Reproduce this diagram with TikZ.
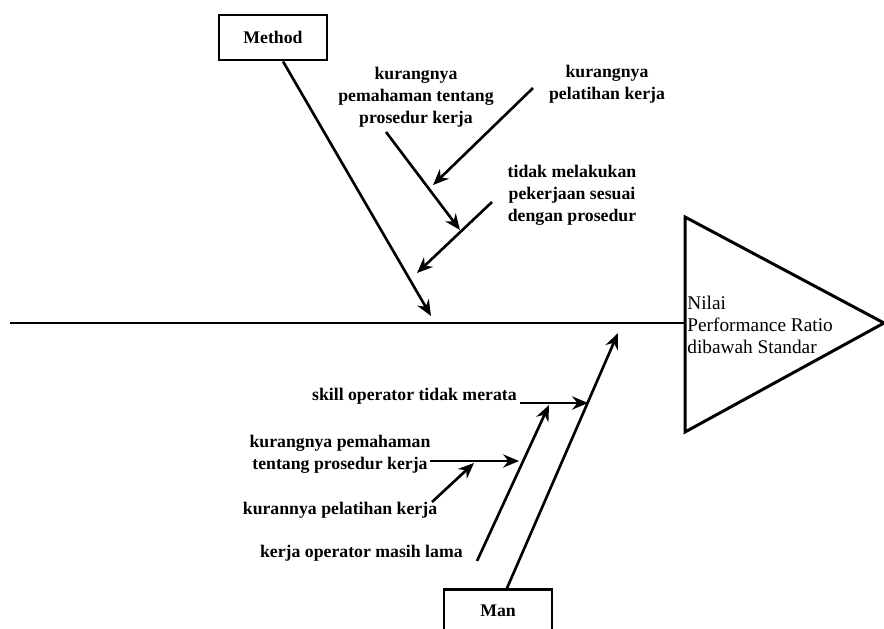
\documentclass[tikz,border=0pt]{standalone}
\usepackage{fontspec}
\usepackage{tikz}
\usetikzlibrary{positioning,arrows.meta,calc}
\newcommand\fishfont{\fontspec{Liberation Serif}}
\tikzset{
  catbox/.style={draw,line width=1.6pt,minimum width=2.16cm,minimum height=0.9cm,
            align=center,font=\fishfont\bfseries\fontsize{10.1}{12.5}\selectfont,fill=white},
  cause/.style={inner sep=0pt,align=center,font=\fishfont\bfseries\fontsize{10.1}{12.5}\selectfont},
  effecttext/.style={inner sep=0pt,align=left,font=\fishfont\fontsize{11}{12.5}\selectfont},
  bone/.style={-{Stealth[length=9pt,width=7.5pt]},line width=1.5pt},
  spine/.style={line width=1.7pt},
}

\begin{document}
\begin{tikzpicture}[x=0.02cm,y=-0.02cm]
  \useasboundingbox (0,0) rectangle (884,628);
  \clip (0,0) rectangle (884,628);
  % head of the fish
  \coordinate (htop) at (685,217);
  \coordinate (hbot) at (685,432);
  \coordinate (htip) at (884,323);
  \draw[spine,line join=miter] (htop) -- (htip) -- (hbot) -- cycle;
  \node[effecttext,anchor=west] (effect) at (687,325) {Nilai\\Performance Ratio\\dibawah Standar};
  \coordinate (tail) at (10,323);
  \coordinate (head) at (685,323);
  \draw[spine] (tail) -- (head);

  % Method
  \node[catbox] (method) at (273,37.5) {Method};
  \coordinate (mroot) at ($(method.south)+(10,0)$);
  \coordinate (mend) at (431,316);
  \draw[bone] (mroot) -- (mend);
  \node[cause] (m1) at (416,97) {kurangnya\\pemahaman tentang\\prosedur kerja};
  \node[cause] (m2) at (607,84) {kurangnya\\pelatihan kerja};
  \node[cause] (m3) at (572,195) {tidak melakukan\\pekerjaan sesuai\\dengan prosedur};
  \coordinate (m1a) at (386,132);
  \coordinate (m1b) at (460,230);
  \coordinate (m2a) at (533,88);
  \coordinate (m2b) at (433,185);
  \coordinate (m3a) at (492,202);
  \coordinate (m3b) at (417,273);
  \draw[bone] (m1a) -- (m1b);
  \draw[bone] (m2a) -- (m2b);
  \draw[bone] (m3a) -- (m3b);

  % Man
  \node[catbox,minimum height=0.86cm] (man) at (498,611) {Man};
  \coordinate (nroot) at ($(man.north)+(9,0)$);
  \coordinate (nend) at (618,333);
  \draw[bone] (nroot) -- (nend);
  \node[cause,anchor=east] (s1) at (517,396) {skill operator tidak merata};
  \node[cause] (s2) at (340,454) {kurangnya pemahaman\\tentang prosedur kerja};
  \node[cause] (s3) at (340,510) {kurannya pelatihan kerja};
  \node[cause,anchor=east] (s4) at (463,553) {kerja operator masih lama};
  \coordinate (s1a) at (520,403);
  \coordinate (s1b) at (588,403);
  \coordinate (s2a) at (430,461);
  \coordinate (s2b) at (519,461);
  \coordinate (s3a) at (432,502);
  \coordinate (s3b) at (474,463);
  \coordinate (s4a) at (477,561);
  \coordinate (s4b) at (549,405);
  \draw[bone] (s1a) -- (s1b);
  \draw[bone] (s2a) -- (s2b);
  \draw[bone] (s3a) -- (s3b);
  \draw[bone] (s4a) -- (s4b);
\end{tikzpicture}
\end{document}
